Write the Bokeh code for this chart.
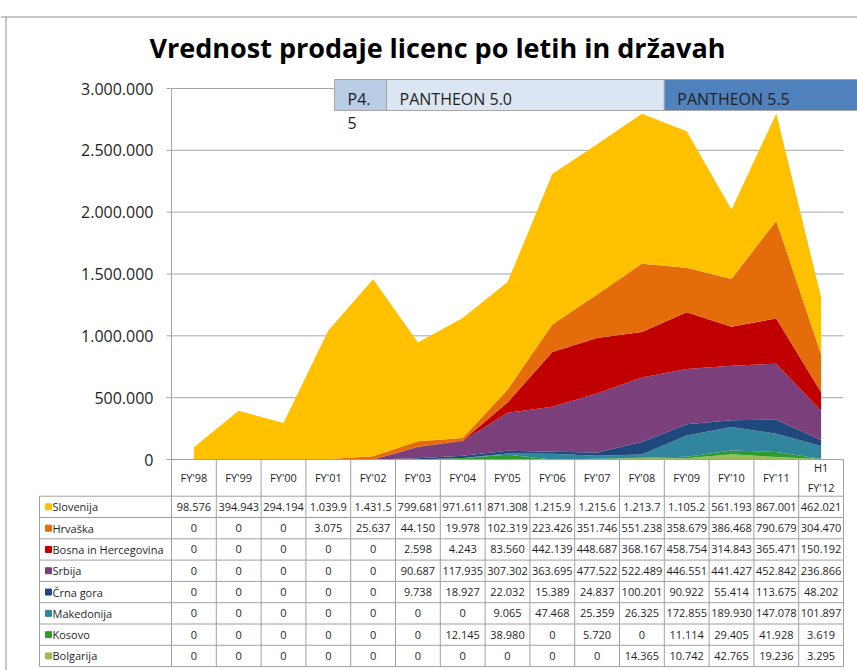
from bokeh.plotting import figure
from bokeh.models import Range1d, ColumnDataSource, Span
from bokeh.core.properties import value
from bokeh.embed import file_html
from bokeh.resources import INLINE

# ---------------- data ----------------
TITLE = "Vrednost prodaje licenc po letih in državah"

years = ["FY'98", "FY'99", "FY'00", "FY'01", "FY'02", "FY'03", "FY'04", "FY'05",
         "FY'06", "FY'07", "FY'08", "FY'09", "FY'10", "FY'11", "H1\nFY'12"]

countries = ["Slovenija", "Hrvaška", "Bosna in Hercegovina", "Srbija",
             "Črna gora", "Makedonija", "Kosovo", "Bolgarija"]

slovenija = [98576, 394943, 294194, 1039900, 1431500, 799681, 971611, 871308,
             1215900, 1215600, 1213700, 1105200, 561193, 867001, 462021]
hrvaska = [0, 0, 0, 3075, 25637, 44150, 19978, 102319,
           223426, 351746, 551238, 358679, 386468, 790679, 304470]
bosna = [0, 0, 0, 0, 0, 2598, 4243, 83560,
         442139, 448687, 368167, 458754, 314843, 365471, 150192]
srbija = [0, 0, 0, 0, 0, 90687, 117935, 307302,
          363695, 477522, 522489, 446551, 441427, 452842, 236866]
crna_gora = [0, 0, 0, 0, 0, 9738, 18927, 22032,
             15389, 24837, 100201, 90922, 55414, 113675, 48202]
makedonija = [0, 0, 0, 0, 0, 0, 0, 9065,
              47468, 25359, 26325, 172855, 189930, 147078, 101897]
kosovo = [0, 0, 0, 0, 0, 0, 12145, 38980,
          0, 5720, 0, 11114, 29405, 41928, 3619]
bolgarija = [0, 0, 0, 0, 0, 0, 0, 0,
             0, 0, 14365, 10742, 42765, 19236, 3295]

y_ticks = [0, 500000, 1000000, 1500000, 2000000, 2500000, 3000000]

periods = ["P4.5", "PANTHEON 5.0", "PANTHEON 5.5"]
period_start = [3.64, 4.8, 11.0]     # in category positions
period_end = [4.8, 11.0, 15.6]

# ---------------- styles ----------------
series = [slovenija, hrvaska, bosna, srbija, crna_gora, makedonija, kosovo, bolgarija]
colors = ["#FFC000", "#E46C0A", "#C00000", "#7B3F7B",
          "#1F497D", "#31859C", "#2E9B2E", "#9BBB59"]
period_fill = ["#B9CDE5", "#DCE6F2", "#4F81BD"]
period_display = ["P4.\n5", "PANTHEON 5.0", "PANTHEON 5.5"]
FONT = "Open Sans"
TXT = "#1F1F1F"
GRID = "#A6A6A6"
TBL = "#A0A0A0"


def fmt_thousands(v):
    return f"{v:,}".replace(",", ".")


y_tick_labels = [fmt_thousands(t) for t in y_ticks]

# ---------------- layout helpers (page pixels -> data units) ----------------
PAGE_X0, PAGE_Y0 = 0, 0
W, H = 857, 670
COL0_PX, COL_W = 171.0, 44.8
ZERO_PX, PX_PER_VAL = 459.0, 371.0 / 3_000_000
ROW0_PX, ROW_H = 495.7, 21.3


def ux(px):
    return (px - COL0_PX) / COL_W


def uv(py):
    return (ZERO_PX - py) / PX_PER_VAL


def ur(py):
    return (py - ROW0_PX) / ROW_H


ncol = len(years)
nrow = len(countries)

p = figure(width=W, height=H,
           x_range=Range1d(ux(PAGE_X0), ux(PAGE_X0 + W)),
           y_range=Range1d(uv(PAGE_Y0 + H), uv(PAGE_Y0)),
           x_axis_type=None, y_axis_type=None,
           output_backend="svg", toolbar_location=None,
           min_border=0, outline_line_color=None,
           background_fill_color="white", border_fill_color="white")
p.extra_y_ranges = {"tbl": Range1d(start=ur(PAGE_Y0 + H), end=ur(PAGE_Y0))}

# outer chart border (top + left)
p.add_layout(Span(location=uv(16.5), dimension="width", line_color="#8C8C8C", line_width=1))
p.segment(x0=[ux(5.5)], x1=[ux(5.5)], y0=[uv(16.5)], y1=[uv(700)], line_color="#8C8C8C", line_width=1)

# gridlines, axis, ticks, tick labels
nt = len(y_ticks)
p.segment(x0=[0] * nt, x1=[ncol] * nt, y0=y_ticks, y1=y_ticks, line_color=GRID, line_width=1)
p.segment(x0=[ux(166)] * nt, x1=[0] * nt, y0=y_ticks, y1=y_ticks, line_color=GRID, line_width=1)
p.segment(x0=[0], x1=[0], y0=[0], y1=[y_ticks[-1]], line_color=GRID, line_width=1)
p.text(x=[ux(153)] * nt, y=y_ticks, text=y_tick_labels, text_align="right",
       text_baseline="middle", text_font=value(FONT), text_font_size="16px", text_color=TXT)

# stacked areas
data = {"x": [i + 0.5 for i in range(ncol)]}
keys = []
for k, s in enumerate(series):
    data[f"s{k}"] = s
    keys.append(f"s{k}")
src = ColumnDataSource(data)
p.varea_stack(stackers=keys[::-1], x="x", color=colors[::-1], source=src)

# version period boxes
p.quad(left=period_start, right=period_end, bottom=uv(110), top=uv(79),
       fill_color=period_fill, line_color="#A6A6A6", line_width=1)
px_, py_, pt_ = [], [], []
for s, lbl in zip(period_start, period_display):
    for k, ln in enumerate(lbl.split("\n")):
        px_.append(s + 13 / COL_W)
        py_.append(uv(98 + 24 * k))
        pt_.append(ln)
p.text(x=px_, y=py_, text=pt_, text_align="left", text_baseline="middle",
       text_font=value(FONT), text_font_size="16px", text_color=TXT)

# title
p.text(x=[ux(437)], y=[uv(47)], text=[TITLE], text_align="center", text_baseline="middle",
       text_font=value(FONT), text_font_size="27px", text_font_style="bold", text_color="#000000")

# ---------------- data table ----------------
hb = list(range(nrow + 1))
p.segment(x0=[ux(39)] * len(hb), x1=[ncol] * len(hb), y0=hb, y1=hb,
          line_color=TBL, line_width=1, y_range_name="tbl")
p.segment(x0=[0], x1=[ncol], y0=[ur(459)], y1=[ur(459)], line_color=TBL, line_width=1, y_range_name="tbl")
vb = list(range(ncol + 1))
p.segment(x0=vb, x1=vb, y0=[ur(459)] * len(vb), y1=[nrow] * len(vb),
          line_color=TBL, line_width=1, y_range_name="tbl")
p.segment(x0=[ux(39)], x1=[ux(39)], y0=[0], y1=[nrow], line_color=TBL, line_width=1, y_range_name="tbl")

# header
p.text(x=[i + 0.5 for i in range(ncol)], y=[ur(477)] * ncol, text=years,
       text_align="center", text_baseline="middle", text_line_height=1.27,
       text_font=value(FONT), text_font_size="11px", text_color=TXT, y_range_name="tbl")

# cells
cx, cy, ct = [], [], []
for r, s in enumerate(series):
    for c, v in enumerate(s):
        cx.append(c + 0.5)
        cy.append(r + 0.5)
        ct.append(fmt_thousands(v)[:7])
p.text(x=cx, y=cy, text=ct, text_align="center", text_baseline="middle",
       text_font=value(FONT), text_font_size="11px", text_color=TXT, y_range_name="tbl")

# row labels with legend keys
p.scatter(x=[ux(48)] * nrow, y=[r + 0.5 for r in range(nrow)], marker="square", size=6,
          color=colors, y_range_name="tbl")
p.text(x=[ux(52)] * nrow, y=[r + 0.5 for r in range(nrow)], text=countries,
       text_align="left", text_baseline="middle",
       text_font=value(FONT), text_font_size="11px", text_color=TXT, y_range_name="tbl")

open("out.html", "w").write(file_html(p, INLINE))
